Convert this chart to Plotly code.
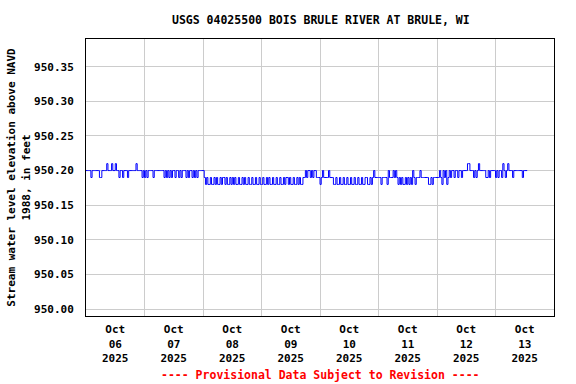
import plotly.graph_objects as go
import pandas as pd

TITLE = "USGS 04025500 BOIS BRULE RIVER AT BRULE, WI"
Y_TITLE = "Stream water level elevation above NAVD<br>1988, in feet"
FOOTER = "---- Provisional Data Subject to Revision ----"

START = "2025-10-06 00:00"
STEP = "30min"

# Half-hourly water level (ft), one list per day
oct06 = [950.20, 950.20, 950.20, 950.20, 950.19, 950.20, 950.20, 950.20,
         950.20, 950.20, 950.20, 950.19, 950.19, 950.20, 950.20, 950.20,
         950.20, 950.21, 950.20, 950.20, 950.20, 950.21, 950.20, 950.20,
         950.21, 950.20, 950.20, 950.19, 950.20, 950.20, 950.19, 950.20,
         950.20, 950.20, 950.19, 950.20, 950.20, 950.20, 950.20, 950.20,
         950.20, 950.21, 950.20, 950.20, 950.20, 950.20, 950.19, 950.20]
oct07 = [950.19, 950.20, 950.19, 950.20, 950.20, 950.20, 950.20, 950.19,
         950.20, 950.20, 950.20, 950.20, 950.20, 950.20, 950.20, 950.20,
         950.19, 950.20, 950.19, 950.20, 950.19, 950.20, 950.19, 950.20,
         950.20, 950.19, 950.20, 950.20, 950.19, 950.20, 950.19, 950.20,
         950.20, 950.20, 950.19, 950.20, 950.19, 950.20, 950.20, 950.19,
         950.20, 950.19, 950.20, 950.19, 950.20, 950.20, 950.20, 950.20]
oct08 = [950.20, 950.19, 950.18, 950.19, 950.18, 950.18, 950.19, 950.18,
         950.18, 950.19, 950.18, 950.19, 950.18, 950.18, 950.19, 950.18,
         950.19, 950.19, 950.18, 950.19, 950.18, 950.18, 950.19, 950.18,
         950.19, 950.18, 950.19, 950.18, 950.18, 950.19, 950.18, 950.18,
         950.19, 950.18, 950.19, 950.18, 950.18, 950.19, 950.18, 950.18,
         950.19, 950.18, 950.18, 950.19, 950.18, 950.18, 950.19, 950.18]
oct09 = [950.18, 950.19, 950.18, 950.18, 950.19, 950.18, 950.19, 950.18,
         950.18, 950.19, 950.18, 950.18, 950.19, 950.18, 950.18, 950.19,
         950.18, 950.18, 950.19, 950.18, 950.19, 950.19, 950.18, 950.19,
         950.18, 950.18, 950.19, 950.18, 950.18, 950.19, 950.18, 950.19,
         950.18, 950.18, 950.19, 950.19, 950.20, 950.19, 950.20, 950.20,
         950.19, 950.20, 950.19, 950.20, 950.20, 950.19, 950.19, 950.19]
oct10 = [950.18, 950.19, 950.20, 950.19, 950.19, 950.19, 950.19, 950.20,
         950.19, 950.19, 950.19, 950.18, 950.18, 950.19, 950.18, 950.18,
         950.19, 950.18, 950.18, 950.19, 950.18, 950.18, 950.19, 950.18,
         950.18, 950.19, 950.18, 950.18, 950.19, 950.18, 950.18, 950.19,
         950.18, 950.18, 950.19, 950.18, 950.18, 950.19, 950.19, 950.18,
         950.18, 950.19, 950.18, 950.19, 950.20, 950.19, 950.19, 950.19]
oct11 = [950.19, 950.19, 950.18, 950.19, 950.19, 950.19, 950.19, 950.18,
         950.20, 950.19, 950.19, 950.19, 950.20, 950.19, 950.20, 950.19,
         950.18, 950.19, 950.18, 950.19, 950.18, 950.18, 950.19, 950.18,
         950.19, 950.18, 950.19, 950.18, 950.20, 950.19, 950.18, 950.19,
         950.19, 950.19, 950.20, 950.19, 950.19, 950.19, 950.19, 950.19,
         950.19, 950.18, 950.18, 950.19, 950.18, 950.19, 950.19, 950.19]
oct12 = [950.19, 950.19, 950.20, 950.19, 950.18, 950.20, 950.19, 950.20,
         950.18, 950.19, 950.20, 950.19, 950.20, 950.20, 950.19, 950.20,
         950.20, 950.19, 950.20, 950.20, 950.19, 950.20, 950.20, 950.20,
         950.20, 950.21, 950.21, 950.20, 950.20, 950.20, 950.19, 950.20,
         950.19, 950.20, 950.21, 950.20, 950.20, 950.20, 950.20, 950.20,
         950.19, 950.19, 950.20, 950.19, 950.20, 950.20, 950.20, 950.20]
oct13 = [950.19, 950.20, 950.19, 950.20, 950.20, 950.19, 950.21, 950.20,
         950.19, 950.20, 950.21, 950.20, 950.20, 950.20, 950.19, 950.20,
         950.20, 950.20, 950.20, 950.20, 950.20, 950.20, 950.19, 950.20,
         950.20, 950.20, 950.20]

day_labels = ["Oct<br>06<br>2025", "Oct<br>07<br>2025", "Oct<br>08<br>2025",
              "Oct<br>09<br>2025", "Oct<br>10<br>2025", "Oct<br>11<br>2025",
              "Oct<br>12<br>2025", "Oct<br>13<br>2025"]
day_starts = ["2025-10-06", "2025-10-07", "2025-10-08", "2025-10-09",
              "2025-10-10", "2025-10-11", "2025-10-12", "2025-10-13", "2025-10-14"]
y_ticks = [950.00, 950.05, 950.10, 950.15, 950.20, 950.25, 950.30, 950.35]
y_range = [949.99, 950.39]

values = oct06 + oct07 + oct08 + oct09 + oct10 + oct11 + oct12 + oct13
times = pd.date_range(START, periods=len(values), freq=STEP)

midnights = pd.to_datetime(day_starts)
noons = [d + pd.Timedelta(hours=12) for d in midnights[:-1]]

FONT = "DejaVu Sans Mono"

fig = go.Figure()
fig.add_trace(go.Scatter(x=times, y=values, mode="lines",
                         line=dict(color="#0000FF", width=1, shape="hv"),
                         showlegend=False, hoverinfo="skip"))

fig.update_layout(
    width=576, height=384,
    margin=dict(l=86, r=22, t=39, b=68),
    paper_bgcolor="white", plot_bgcolor="white",
    font=dict(family=FONT, size=11, color="black", weight="bold"),
    title=dict(text=TITLE, x=0.557, xanchor="center", y=0.948, yanchor="middle",
               font=dict(family=FONT, size=11.5, color="black", weight="bold")),
)
fig.update_xaxes(
    range=[midnights[0], midnights[-1]], automargin=False,
    tickvals=noons, ticktext=day_labels, ticks="",
    showgrid=False, zeroline=False,
    showline=True, linecolor="black", linewidth=1, mirror=True,
    ticklabelstandoff=3,
    minor=dict(tickvals=list(midnights[1:-1]), showgrid=True,
               gridcolor="#CCCCCC", gridwidth=1, ticks=""),
    tickfont=dict(family=FONT, size=11, weight="bold"),
)
fig.update_yaxes(
    range=y_range, tickvals=y_ticks, tickformat=".2f", ticks="", automargin=False,
    showgrid=True, gridcolor="#CCCCCC", gridwidth=1, zeroline=False,
    showline=True, linecolor="black", linewidth=1, mirror=True,
    ticklabelstandoff=9,
    title=dict(text=Y_TITLE, standoff=1,
               font=dict(family=FONT, size=11, weight="bold")),
    tickfont=dict(family=FONT, size=11, weight="bold"),
)
fig.add_annotation(text=FOOTER, xref="paper", yref="paper", x=0.5, y=-0.213,
                   xanchor="center", yanchor="middle", showarrow=False,
                   font=dict(family=FONT, size=11.5, color="#FF0000", weight="bold"))

fig.write_html("out.html", config={"displayModeBar": False},
               post_script="document.body.style.margin='0';document.body.style.padding='0';")
